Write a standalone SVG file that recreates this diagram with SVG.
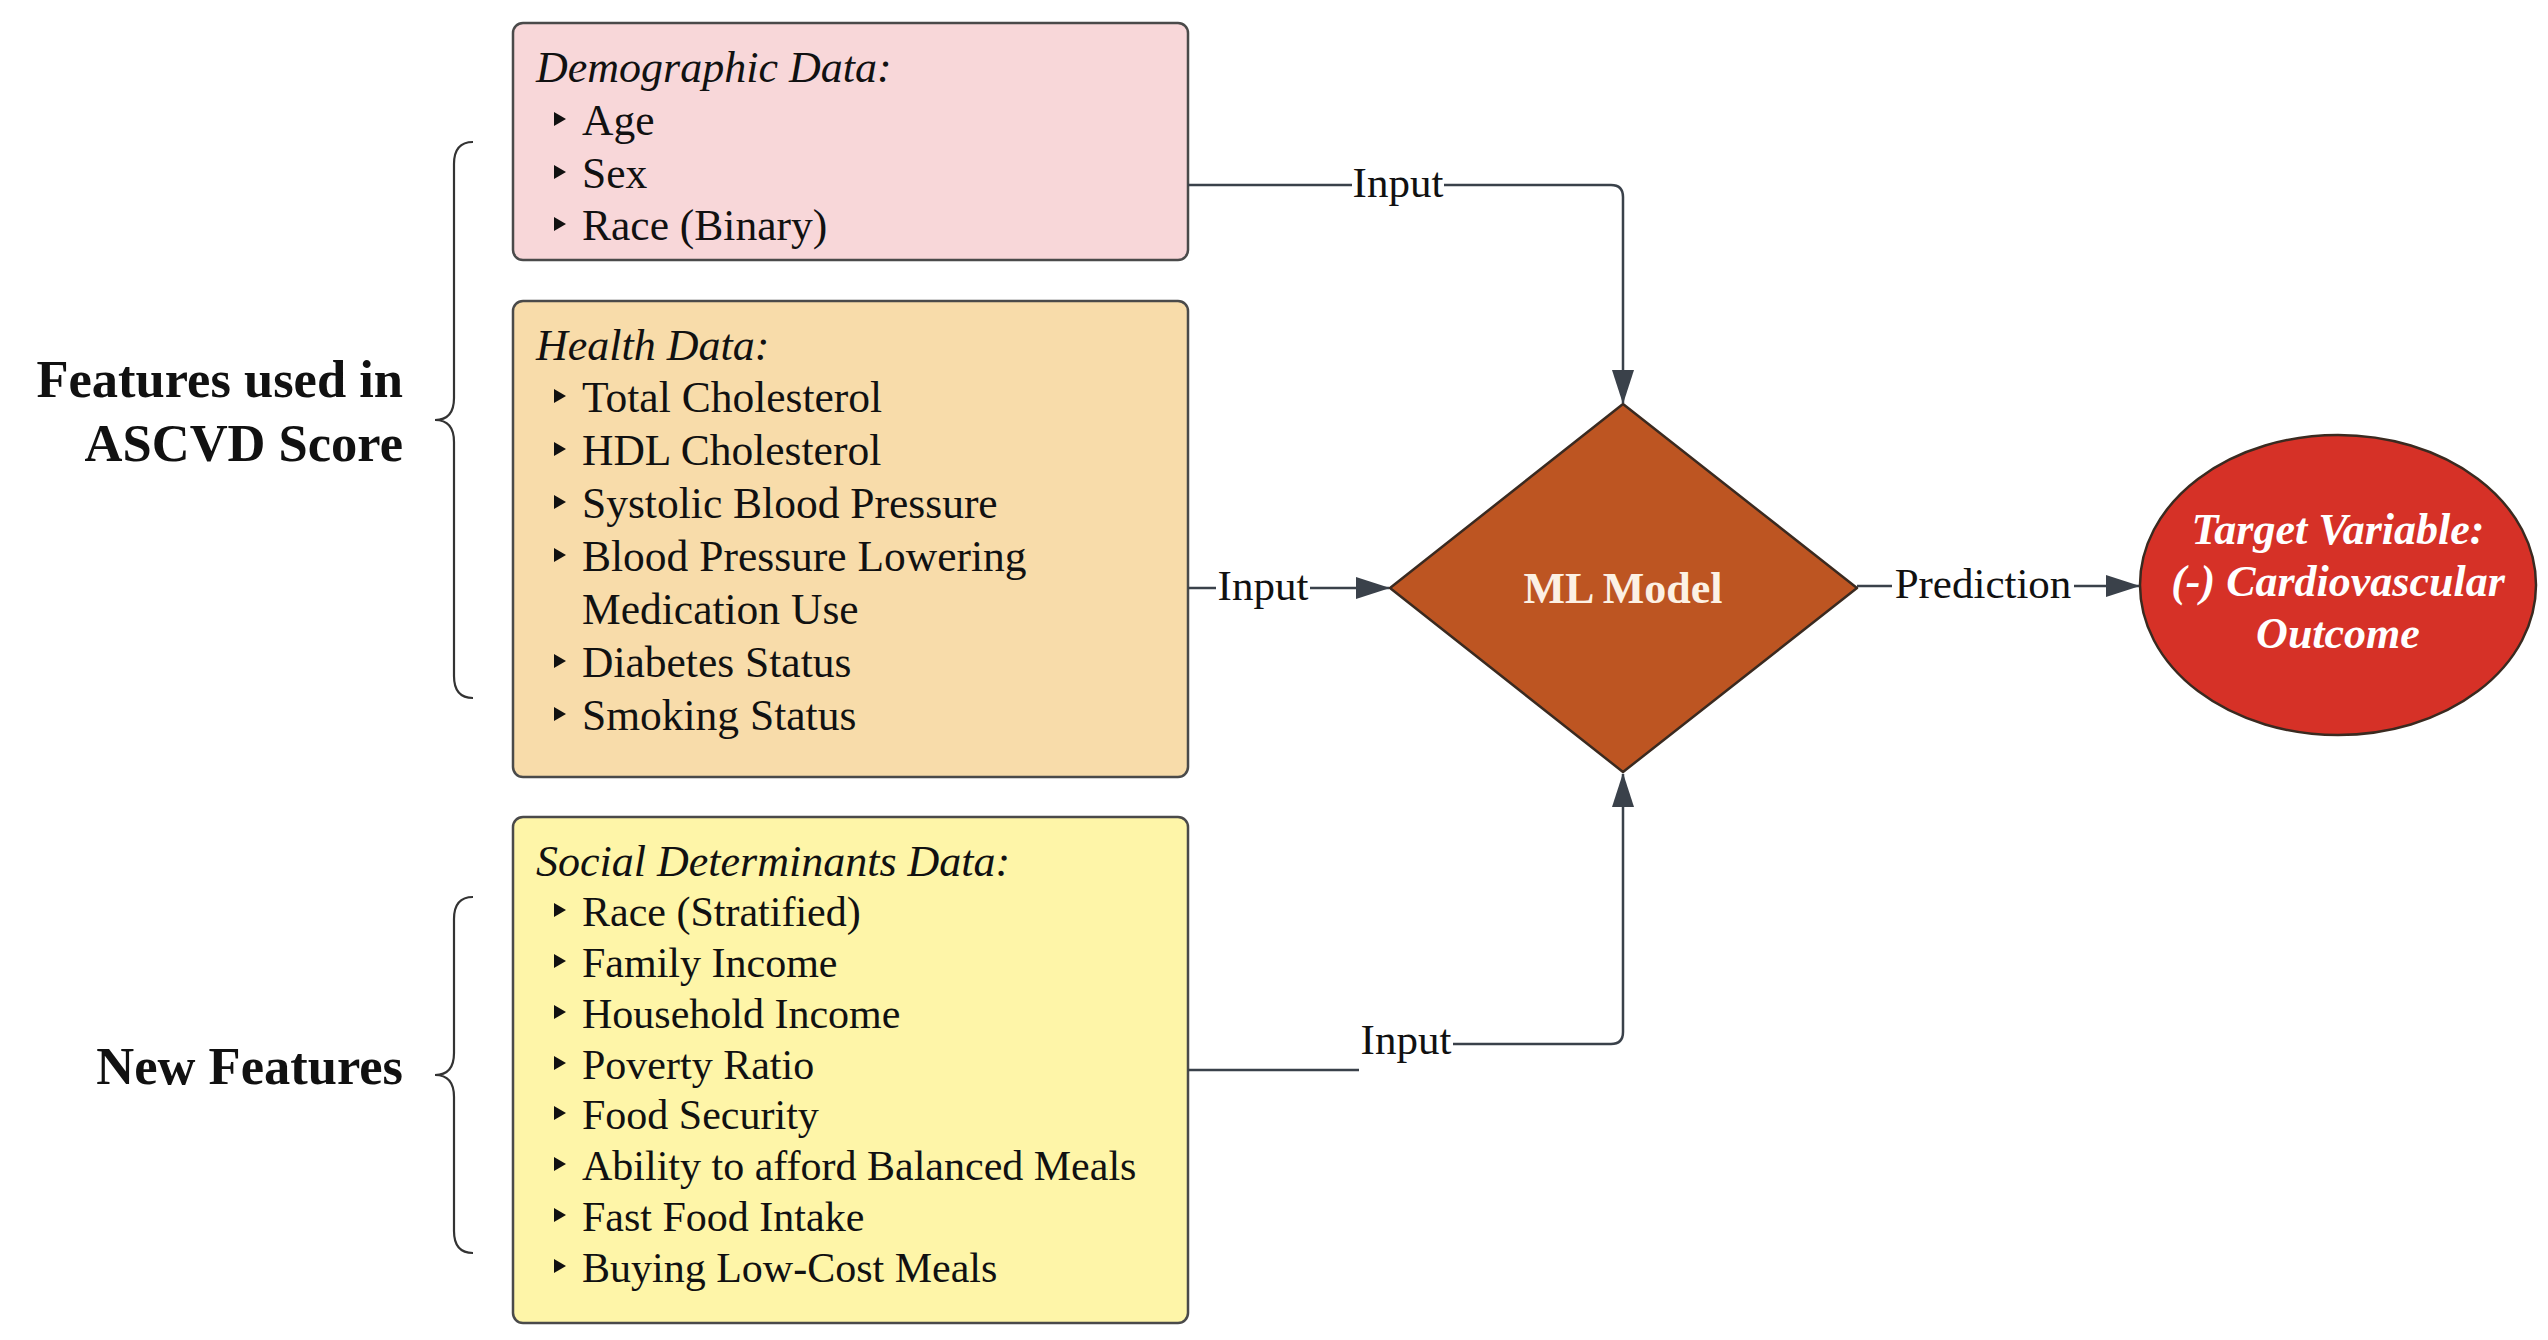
<svg xmlns="http://www.w3.org/2000/svg" width="2548" height="1340" viewBox="0 0 2548 1340">
<defs>
<marker id="arrow" markerWidth="34" markerHeight="22" refX="33" refY="11" orient="auto" markerUnits="userSpaceOnUse">
<path d="M0,0 L34,11 L0,22 Z" fill="#3a414a"/>
</marker>
</defs>
<style>
text{font-family:"Liberation Serif","Times New Roman",serif;fill:#111;}
.item{font-size:43.5px;}
.sitem{font-size:42px;}
.head{font-size:44px;font-style:italic;}
.lbl{font-size:43px;}
.side{font-size:52.5px;font-weight:bold;text-anchor:end;}
.box{stroke:#4a4a4a;stroke-width:2.5;}
.conn{fill:none;stroke:#3a414a;stroke-width:2.5;}
.brace{fill:none;stroke:#333;stroke-width:2.2;}
.bul{fill:#111;}
.tgt{font-size:44px;font-weight:bold;font-style:italic;text-anchor:middle;}
</style>
<rect width="2548" height="1340" fill="#ffffff"/>

<g id="label-ascvd">
<text class="side" x="403" y="397">Features used in</text>
<text class="side" x="403" y="461">ASCVD Score</text>
<path class="brace" d="M473,142 Q454,142 454,164 V398 Q454,420 435,420 Q454,420 454,442 V676 Q454,698 473,698"/>
</g>

<g id="label-new">
<text class="side" x="403" y="1084">New Features</text>
<path class="brace" d="M473,897 Q454,897 454,919 V1053 Q454,1075 435,1075 Q454,1075 454,1097 V1231 Q454,1253 473,1253"/>
</g>

<g id="demographic">
<rect class="box" x="513" y="23" width="675" height="237" rx="10" fill="#f8d7d9"/>
<text class="head" x="536" y="82">Demographic Data:</text>
<path class="bul" d="M554,112 L566,119 L554,126 Z"/>
<text class="item" x="582" y="135">Age</text>
<path class="bul" d="M554,165 L566,172 L554,179 Z"/>
<text class="item" x="582" y="188">Sex</text>
<path class="bul" d="M554,217 L566,224 L554,231 Z"/>
<text class="item" x="582" y="240">Race (Binary)</text>
</g>

<g id="health">
<rect class="box" x="513" y="301" width="675" height="476" rx="10" fill="#f8dcaa"/>
<text class="head" x="536" y="360">Health Data:</text>
<path class="bul" d="M554,389 L566,396 L554,403 Z"/>
<text class="item" x="582" y="412">Total Cholesterol</text>
<path class="bul" d="M554,442 L566,449 L554,456 Z"/>
<text class="item" x="582" y="465">HDL Cholesterol</text>
<path class="bul" d="M554,495 L566,502 L554,509 Z"/>
<text class="item" x="582" y="518">Systolic Blood Pressure</text>
<path class="bul" d="M554,548 L566,555 L554,562 Z"/>
<text class="item" x="582" y="571">Blood Pressure Lowering</text>
<text class="item" x="582" y="624">Medication Use</text>
<path class="bul" d="M554,654 L566,661 L554,668 Z"/>
<text class="item" x="582" y="677">Diabetes Status</text>
<path class="bul" d="M554,707 L566,714 L554,721 Z"/>
<text class="item" x="582" y="730">Smoking Status</text>
</g>

<g id="social">
<rect class="box" x="513" y="817" width="675" height="506" rx="10" fill="#fef5a8"/>
<text class="head" x="536" y="876">Social Determinants Data:</text>
<path class="bul" d="M554,903 L566,910 L554,917 Z"/>
<text class="sitem" x="582" y="926">Race (Stratified)</text>
<path class="bul" d="M554,954 L566,961 L554,968 Z"/>
<text class="sitem" x="582" y="977">Family Income</text>
<path class="bul" d="M554,1005 L566,1012 L554,1019 Z"/>
<text class="sitem" x="582" y="1028">Household Income</text>
<path class="bul" d="M554,1056 L566,1063 L554,1070 Z"/>
<text class="sitem" x="582" y="1079">Poverty Ratio</text>
<path class="bul" d="M554,1106 L566,1113 L554,1120 Z"/>
<text class="sitem" x="582" y="1129">Food Security</text>
<path class="bul" d="M554,1157 L566,1164 L554,1171 Z"/>
<text class="sitem" x="582" y="1180">Ability to afford Balanced Meals</text>
<path class="bul" d="M554,1208 L566,1215 L554,1222 Z"/>
<text class="sitem" x="582" y="1231">Fast Food Intake</text>
<path class="bul" d="M554,1259 L566,1266 L554,1273 Z"/>
<text class="sitem" x="582" y="1282">Buying Low-Cost Meals</text>
</g>

<g id="ml-model">
<path d="M1623,404 L1857,588 L1623,772 L1390,588 Z" fill="#bd5522" stroke="#3a2a20" stroke-width="2.5" stroke-linejoin="round"/>
<text x="1623" y="603" font-size="44" font-weight="bold" text-anchor="middle" style="fill:#fcf1e4">ML Model</text>
</g>

<g id="target">
<ellipse cx="2338" cy="585" rx="198" ry="150" fill="#d63127" stroke="#3a2a20" stroke-width="2.5"/>
<text class="tgt" x="2338" y="544" style="fill:#ffffff">Target Variable:</text>
<text class="tgt" x="2338" y="596" style="fill:#ffffff">(-) Cardiovascular</text>
<text class="tgt" x="2338" y="648" style="fill:#ffffff">Outcome</text>
</g>

<g id="connectors">
<path class="conn" d="M1188,185 H1352"/>
<path class="conn" d="M1444,185 H1611 Q1623,185 1623,197 V403" marker-end="url(#arrow)"/>
<text class="lbl" x="1398" y="197" text-anchor="middle">Input</text>

<path class="conn" d="M1188,588 H1216"/>
<path class="conn" d="M1310,588 H1389" marker-end="url(#arrow)"/>
<text class="lbl" x="1263" y="600" text-anchor="middle">Input</text>

<path class="conn" d="M1188,1070 H1359"/>
<path class="conn" d="M1453,1044 H1611 Q1623,1044 1623,1032 V774" marker-end="url(#arrow)"/>
<text class="lbl" x="1406" y="1054" text-anchor="middle">Input</text>

<path class="conn" d="M1857,586 H1892"/>
<path class="conn" d="M2074,586 H2139" marker-end="url(#arrow)"/>
<text class="lbl" x="1983" y="598" text-anchor="middle">Prediction</text>
</g>
</svg>
